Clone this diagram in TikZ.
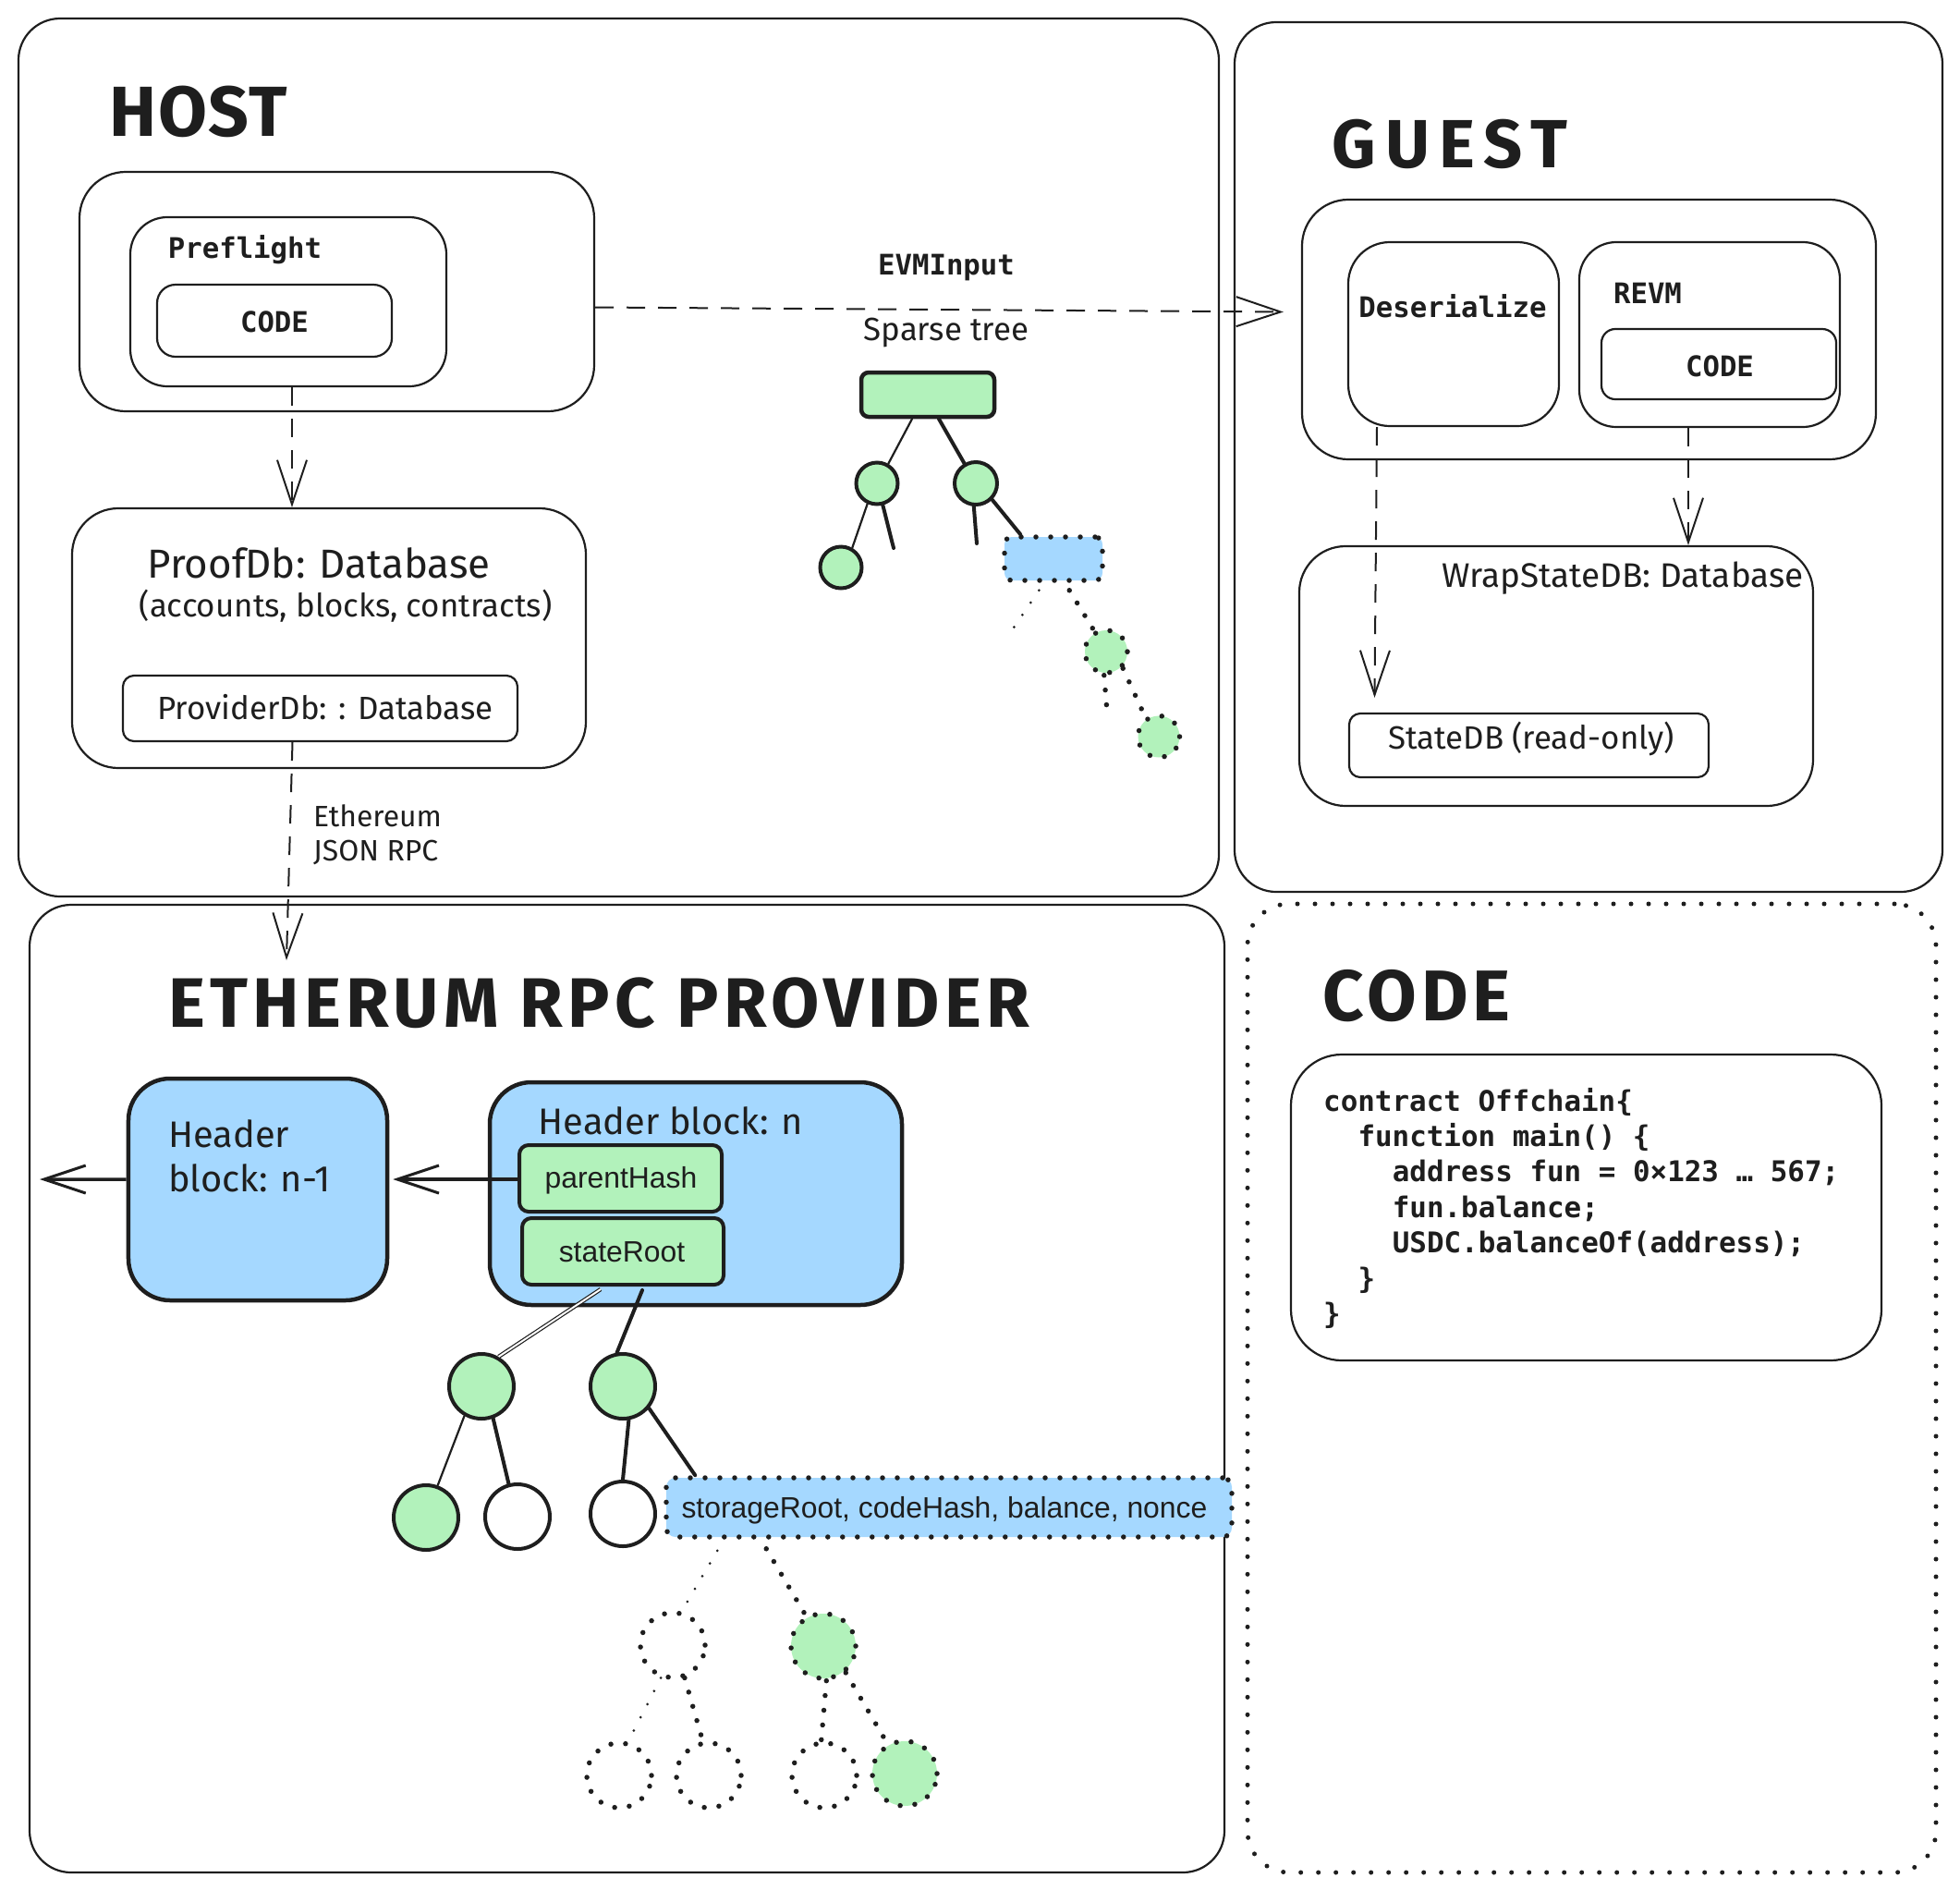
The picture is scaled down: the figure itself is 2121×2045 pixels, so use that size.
\documentclass[tikz,border=0pt]{standalone}
\usepackage{fontspec}
\setmainfont{Fira Sans}
\newfontfamily\handf{Fira Sans}
\newfontfamily\monof{DejaVu Sans Mono}
\newfontfamily\helvf{Liberation Sans}
\usetikzlibrary{arrows.meta}
\definecolor{ink}{HTML}{1E1E1E}
\definecolor{lgreen}{HTML}{B2F2BB}
\definecolor{lblue}{HTML}{A5D8FF}
\newcommand\myfs[1]{\fontsize{#1}{#1}\selectfont}
\begin{document}
\begin{tikzpicture}[x=1bp,y=-1bp,
  rb/.style={draw=ink, line width=2.2bp, rounded corners=#1, inner sep=0pt},
  rb/.default=40bp,
  hb/.style={draw=ink, fill=lblue, line width=4.5bp, rounded corners=#1, inner sep=0pt},
  hb/.default=45bp,
  gb/.style={draw=ink, fill=lgreen, line width=4bp, rounded corners=10bp, inner sep=0pt},
  dotsb/.style={dash pattern=on 0pt off 16bp, line cap=round, line width=5.5bp},
  dotsthin/.style={dash pattern=on 0pt off 16bp, line cap=round, line width=3bp},
  circ/.style={circle, draw=ink, line width=4bp, minimum size=#1, inner sep=0pt},
  circ/.default=70bp,
  dcirc/.style={circle, draw=ink, dotsb, minimum size=#1, inner sep=0pt},
  dcirc/.default=70bp,
  lbl/.style={anchor=base, inner sep=0pt, text=ink},
  lblw/.style={anchor=base west, inner sep=0pt, text=ink},
  titlef/.style 2 args={font=\handf\bfseries\addfontfeature{LetterSpace=#2}\myfs{#1}},
  hand/.style={font=\handf\myfs{#1}},
  mono/.style={font=\monof\bfseries\myfs{#1}},
  helv/.style={font=\helvf\myfs{#1}},
  dasharrow/.style={draw=ink, line width=2bp, dash pattern=on 20bp off 14bp,
    -{Straight Barb[length=48bp,width=32bp,line width=2bp]}},
  solidarrow/.style={draw=ink, line width=3.5bp,
    -{Straight Barb[length=45bp,width=30bp,line width=3bp]}},
  tl/.style={draw=ink, line width=2.2bp, line cap=round},
  tk/.style={draw=ink, line width=4bp, line cap=round}
]
\useasboundingbox (0,0) rectangle (2121,2045);

% ---------- section frames ----------
\node[rb=45bp, minimum width=1299bp, minimum height=950bp] (host) at (669.5,495) {};
\node[rb=45bp, minimum width=766bp, minimum height=941bp] (guest) at (1719,494.5) {};
\node[rb=45bp, minimum width=1293bp, minimum height=1047bp] (eth) at (678.5,1502.5) {};
\node[draw=ink, rounded corners=45bp, dash pattern=on 0pt off 19bp, line cap=round, line width=5bp,
      minimum width=745bp, minimum height=1048bp, inner sep=0pt] (codesec) at (1722.5,1502) {};

% ---------- titles ----------
\node[lbl, titlef={77}{2}] (thost) at (215,147) {HOST};
\node[lbl, titlef={74}{14}] (tguest) at (1569,181) {GUEST};
\node[lbl, titlef={76}{7}] (teth) at (648,1111) {ETHERUM RPC PROVIDER};
\node[lbl, titlef={78}{6}] (tcode) at (1533,1104) {CODE};

% ---------- HOST ----------
\node[rb=50bp, minimum width=557bp, minimum height=259bp] (pfc) at (364.5,315.5) {};
\node[rb=40bp, minimum width=342bp, minimum height=183bp] (pf) at (312,326.5) {};
\node[lbl, mono=30.8] (pflbl) at (265,279) {Preflight};
\node[rb=20bp, minimum width=254bp, minimum height=78bp] (pfcode) at (297,347) {};
\node[lbl, mono=30.8] (pfcodelbl) at (297,359) {CODE};

\node[rb=50bp, minimum width=556bp, minimum height=281bp] (proofdb) at (356,690.5) {};
\node[lbl, hand=44] (proofdblbl) at (345,625) {ProofDb: Database};
\node[lbl, hand=35] (proofdbsub) at (374,667) {(accounts, blocks, contracts)};
\node[rb=12bp, minimum width=427bp, minimum height=71bp] (providerdb) at (346.5,766.5) {};
\node[lbl, hand=35] (providerdblbl) at (352,778) {ProviderDb: : Database};

\node[lblw, hand=32] (ethlbl1) at (339,894) {Ethereum};
\node[lblw, hand=32] (ethlbl2) at (339,931) {JSON RPC};

\node[lbl, mono=30.8] (evmlbl) at (1024,297) {EVMInput};
\node[lbl, hand=35] (sparselbl) at (1024,368) {Sparse tree};

% sparse tree
\node[draw=ink, fill=lgreen, line width=4.5bp, rounded corners=8bp, minimum width=144bp, minimum height=48bp, inner sep=0pt] (sroot) at (1004,427) {};
\node[circ=45bp, fill=lgreen] (sc1) at (949,523) {};
\node[circ=46bp, fill=lgreen] (sc2) at (1056,523) {};
\node[circ=45bp, fill=lgreen] (sc3) at (910,614) {};
\node[draw=ink, fill=lblue, dotsb, rounded corners=8bp, minimum width=106bp, minimum height=47bp, inner sep=0pt] (sblue) at (1140,604.5) {};
\node[dcirc=46bp, fill=lgreen] (sc4) at (1197,705) {};
\node[dcirc=45bp, fill=lgreen] (sc5) at (1254,797) {};
\coordinate (sstub1) at (967,593);
\coordinate (sstub2) at (1057,588);
\coordinate (sstub3) at (1097,679);
\coordinate (sstub4) at (1198,770);

\draw[tl] ([xshift=-17bp]sroot.south) -- (sc1.60);
\draw[tk] ([xshift=12bp]sroot.south) -- (sc2.120);
\draw[tl] (sc1.245) -- (sc3.60);
\draw[tk] (sc1.285) -- (sstub1);
\draw[tk] (sc2.265) -- (sstub2);
\draw[tk] (sc2.315) -- ([xshift=20bp]sblue.north west);
\draw[draw=ink, dotsthin] ([xshift=40bp,yshift=-8bp]sblue.south west) -- (sstub3);
\draw[draw=ink, dotsb] ([xshift=73bp,yshift=-8bp]sblue.south west) -- (sc4.120);
\draw[draw=ink, dotsb] (sc4.265) -- (sstub4);
\draw[draw=ink, dotsb] (sc4.315) -- (sc5.125);

% host connectors
\draw[dasharrow] ([xshift=4bp]pf.south) -- ([xshift=4bp]pf.south |- proofdb.north);
\coordinate (ethin) at (310,1039);
\draw[dasharrow] ([xshift=-30bp]providerdb.south) -- (ethin);

% ---------- GUEST ----------
\node[rb=50bp, minimum width=621bp, minimum height=281bp] (gc) at (1719.5,356.5) {};
\node[rb=45bp, minimum width=228bp, minimum height=199bp] (deser) at (1573,361.5) {};
\node[lbl, mono=30.8] (deserlbl) at (1572,343) {Deserialize};
\node[rb=40bp, minimum width=282bp, minimum height=200bp] (revm) at (1850,362) {};
\node[lbl, mono=30.8] (revmlbl) at (1783,328) {REVM};
\node[rb=15bp, minimum width=254bp, minimum height=76bp] (revmcode) at (1860,394) {};
\node[lbl, mono=30.8] (revmcodelbl) at (1861,407) {CODE};

\node[rb=50bp, minimum width=556bp, minimum height=281bp] (wrap) at (1684,731.5) {};
\node[lbl, hand=37] (wraplbl) at (1756,635) {WrapStateDB: Database};
\node[rb=12bp, minimum width=389bp, minimum height=69bp] (statedb) at (1654.5,806.5) {};
\node[lbl, hand=35] (statedblbl) at (1657,810) {StateDB (read-only)};

\draw[dasharrow] ([yshift=-17bp]pfc.east) -- ([xshift=-19bp,yshift=19bp]gc.west);
\draw[dasharrow] ([xshift=-83bp]deser.south) -- ([xshift=-167bp,yshift=16bp]statedb.north);
\draw[dasharrow] ([xshift=-23bp]revm.south) -- ([xshift=-23bp]revm.south |- wrap.north);

% ---------- ETHERUM RPC PROVIDER ----------
\node[hb=45bp, minimum width=280bp, minimum height=240bp] (hn1) at (279,1287) {};
\node[lblw, hand=40] (hn1lbl1) at (182,1241) {Header};
\node[lblw, hand=40] (hn1lbl2) at (182,1289) {block: n-1};
\node[hb=45bp, minimum width=446bp, minimum height=241bp] (hn) at (753,1291.5) {};
\node[lbl, hand=40] (hnlbl) at (726,1227) {Header block: n};
\node[gb, minimum width=219bp, minimum height=72bp] (parent) at (671.5,1275) {};
\node[lbl, helv=32] (parentlbl) at (672,1285) {parentHash};
\node[gb, minimum width=218bp, minimum height=72bp] (stateroot) at (674,1354) {};
\node[lbl, helv=32] (staterootlbl) at (673,1365) {stateRoot};

\coordinate (farleft) at (43,1276);
\draw[solidarrow] ([yshift=11bp]hn1.west) -- (farleft);
\draw[solidarrow] ([yshift=-1bp]parent.west) -- ([xshift=4bp,yshift=-1bp]parent.west -| hn1.east);

% tree
\node[circ, fill=lgreen] (e1) at (521,1500) {};
\node[circ, fill=lgreen] (e2) at (674,1500) {};
\node[circ, fill=lgreen] (e3) at (461,1642) {};
\node[circ, fill=white] (e4) at (560,1641) {};
\node[circ, fill=white] (e5) at (674,1638) {};
\node[draw=ink, fill=lblue, dotsb, rounded corners=10bp, minimum width=612bp, minimum height=64bp, inner sep=0pt] (storage) at (1027,1631) {};
\node[lbl, helv=32] (storagelbl) at (1022,1642) {storageRoot, codeHash, balance, nonce};
\node[dcirc, fill=white] (e6) at (728,1780) {};
\node[dcirc, fill=lgreen] (e7) at (891,1781) {};
\node[dcirc, fill=white] (e8) at (670,1921) {};
\node[dcirc, fill=white] (e9) at (767,1921) {};
\node[dcirc, fill=white] (e10) at (892,1921) {};
\node[dcirc, fill=lgreen] (e11) at (979,1919) {};

\draw[draw=ink, double=white, double distance=2bp, line width=1.2bp] ([xshift=-24bp,yshift=-3bp]stateroot.south) -- (e1.60);
\draw[tk] ([xshift=21bp,yshift=-4bp]stateroot.south) -- (e2.100);
\draw[tl] (e1.240) -- (e3.70);
\draw[tk] (e1.290) -- (e4.105);
\draw[tk] (e2.280) -- (e5.90);
\draw[tk] (e2.320) -- ([xshift=34bp]storage.north west);
\draw[draw=ink, dotsthin] ([xshift=58bp,yshift=-12bp]storage.south west) -- (e6.75);
\draw[draw=ink, dotsb] ([xshift=111bp,yshift=-10bp]storage.south west) -- (e7.120);
\draw[draw=ink, dotsthin] (e6.250) -- (e8.75);
\draw[draw=ink, dotsb] (e6.290) -- (e9.100);
\draw[draw=ink, dotsb] (e7.275) -- (e10.95);
\draw[draw=ink, dotsb] (e7.310) -- (e11.120);

% ---------- CODE ----------
\node[rb=55bp, minimum width=639bp, minimum height=331bp] (codebox) at (1716.5,1306.5) {};
\node[lblw, mono=31] (cl1) at (1432,1202) {contract Offchain\{};
\node[lblw, mono=31] (cl2) at (1469.3,1240.4) {function main() \{};
\node[lblw, mono=31] (cl3) at (1506.6,1278.8) {address fun = 0×123 … 567;};
\node[lblw, mono=31] (cl4) at (1506.6,1317.2) {fun.balance;};
\node[lblw, mono=31] (cl5) at (1506.6,1355.6) {USDC.balanceOf(address);};
\node[lblw, mono=31] (cl6) at (1469.3,1394) {\}};
\node[lblw, mono=31] (cl7) at (1432,1432.4) {\}};
\end{tikzpicture}
\end{document}
